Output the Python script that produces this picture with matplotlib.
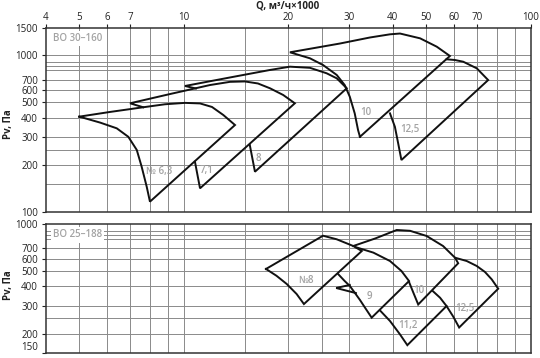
import matplotlib
matplotlib.use('Agg')
import matplotlib.pyplot as plt
from matplotlib.ticker import FixedLocator, NullLocator, FuncFormatter

plt.rcParams['font.family'] = ['Open Sans', 'DejaVu Sans']

# ---------------- axis data ----------------
x_tick_values = [4, 5, 6, 7, 10, 20, 30, 40, 50, 60, 70, 100]
x_grid_values = [5, 6, 7, 8, 9, 10, 15, 20, 25, 30, 40, 50, 60, 70, 80, 90]
top_y_ticks = [100, 200, 300, 400, 500, 600, 700, 1000, 1500]
top_y_grid = [150, 200, 250, 300, 400, 500, 600, 700, 800, 850, 900, 1000]
bot_y_ticks = [150, 200, 300, 400, 500, 600, 700, 1000]
bot_y_grid = [200, 250, 300, 400, 500, 600, 700, 800, 850, 900]

# ---------------- ВО 30-160 (visible outlines, Q [m3/h x1000], Pv [Pa]) ----------------
top_fan_63 = [
    ([5.00, 6.13, 7.64, 8.83, 10.08, 11.14, 12.06, 13.0, 14.05, 7.99, 7.82, 7.56, 7.32, 6.92, 6.41, 5.74, 5.00],
     [406, 435, 466, 487, 497, 493, 468, 416, 359, 116.4, 145, 195, 249, 302, 342, 372, 406]),
]
top_fan_71 = [
    ([10.77, 11.14, 20.9, 19.35, 17.72, 16.36, 15.0, 13.59, 11.9, 9.13, 7.0, 7.64],
     [209.5, 141.6, 494, 558, 616, 661, 681, 677, 646, 566, 494, 466]),
]
top_fan_8 = [
    ([15.5, 16.04, 29.5, 27.6, 25.8, 23.1, 20.23, 17.72, 13.59, 10.08, 10.84],
     [267.6, 180.7, 616, 713, 768, 832, 846, 806, 722, 637, 614]),
]
top_fan_10 = [
    ([32.2, 58.5, 53.6, 48.0, 42.0, 39.3, 34.4, 28.2, 20.23, 23.1, 25.2, 27.6, 29.1, 30.1, 31.1, 31.8, 32.2],
     [302, 990, 1135, 1283, 1377, 1361, 1299, 1189, 1045, 957, 867, 749, 646, 544, 426, 333, 302]),
]
top_fan_125 = [
    ([57.2, 60.5, 63.9, 69.9, 75.4, 42.4, 41.5, 40.6, 39.3],
     [943, 933, 910, 826, 695, 214.7, 274, 350, 426]),
]
top_labels = ['№ 6,3', '7,1', '8', '10', '12,5']
top_label_q = [8.49, 11.66, 16.4, 33.4, 44.9]
top_label_p = [180, 185, 220, 433, 337]

# ---------------- ВО 25-188 ----------------
bot_fan_8 = [
    ([17.26, 25.2, 27.6, 30.8, 32.6, 22.2, 21.15, 19.8, 18.5, 17.26],
     [517, 842, 799, 724, 673, 309, 358, 415, 468, 517]),
]
bot_fan_9 = [
    ([31.3, 35.2, 39.3, 42.4, 44.6, 34.8, 33.3, 32.2, 31.1, 30.1, 29.1, 27.9],
     [712, 657, 581, 502, 433, 253, 293, 328, 365, 403, 433, 478]),
]
bot_fan_10 = [
    ([30.1, 27.5, 31.35], [409, 391, 363]),
    ([30.8, 35.6, 41.1, 44.9, 50.1, 55.9, 60.5, 61.8, 47.4, 45.9, 44.6],
     [724, 808, 916, 905, 839, 724, 610, 562, 307, 365, 427]),
]
bot_fan_112 = [
    ([52.2, 54.8, 57.2, 44.1, 42.0, 39.3, 36.8],
     [374, 339, 300, 169, 198, 241, 281]),
]
bot_fan_125 = [
    ([60.5, 65.4, 69.9, 73.8, 77.2, 80.6, 62.2, 59.8, 57.2],
     [610, 581, 540, 495, 444, 387, 219, 257, 300]),
]
bot_labels = ['№8', '9', '10', '11,2', '12,5']
bot_label_q = [22.5, 34.25, 47.7, 44.4, 64.6]
bot_label_p = [435, 344, 376, 225, 290]

# ---------------- drawing ----------------
W, H = 540, 358
fig = plt.figure(figsize=(W / 100, H / 100), dpi=100)
left, right = 45.7, 530.7
ax1 = fig.add_axes([left / W, 1 - 212 / H, (right - left) / W, (212 - 27.7) / H])
ax2 = fig.add_axes([left / W, 1 - 353.3 / H, (right - left) / W, (353.3 - 224) / H])

grid_kw = dict(color='#8a8a8a', lw=0.7, zorder=1)
line_kw = dict(color='#111111', lw=1.4, zorder=3, solid_joinstyle='miter')
lab_kw = dict(color='#a3a3a3', fontsize=7, fontweight='semibold', ha='center', va='center', zorder=4)
fmt = FuncFormatter(lambda v, _: f'{v:g}')


def setup(ax, ylim, yticks, ygrid):
    ax.set_xscale('log')
    ax.set_yscale('log')
    ax.set_xlim(4, 100)
    ax.set_ylim(*ylim)
    for xv in x_grid_values:
        ax.axvline(xv, **grid_kw)
    for yv in ygrid:
        ax.axhline(yv, **grid_kw)
    ax.yaxis.set_major_locator(FixedLocator(yticks))
    ax.yaxis.set_minor_locator(NullLocator())
    ax.yaxis.set_major_formatter(fmt)
    ax.xaxis.set_major_locator(FixedLocator(x_tick_values))
    ax.xaxis.set_minor_locator(NullLocator())
    ax.xaxis.set_major_formatter(fmt)
    ax.tick_params(axis='y', which='both', length=3, width=0.8, pad=2.5,
                   labelsize=7, colors='#222222')
    for s in ax.spines.values():
        s.set_color('#333333')
        s.set_linewidth(1.1)
        s.set_zorder(5)


setup(ax1, (100, 1500), top_y_ticks, top_y_grid)
setup(ax2, (150, 1000), bot_y_ticks, bot_y_grid)

ax1.xaxis.tick_top()
ax1.tick_params(axis='x', which='both', top=True, bottom=False, labeltop=True,
                labelbottom=False, length=3, width=0.8, pad=0.3,
                labelsize=7, colors='#222222')
ax2.tick_params(axis='x', which='both', top=False, bottom=False,
                labeltop=False, labelbottom=False)

for fan in (top_fan_125, top_fan_10, top_fan_8, top_fan_71, top_fan_63):
    for q, p in fan:
        ax1.plot(q, p, **line_kw)
for fan in (bot_fan_125, bot_fan_112, bot_fan_10, bot_fan_9, bot_fan_8):
    for q, p in fan:
        ax2.plot(q, p, **line_kw)

for t, q, p in zip(top_labels, top_label_q, top_label_p):
    ax1.text(q, p, t, **lab_kw)
for t, q, p in zip(bot_labels, bot_label_q, bot_label_p):
    ax2.text(q, p, t, **lab_kw)

box = dict(facecolor='white', edgecolor='none', pad=1.5)
ax1.text(0.015, 0.939, 'ВО 30–160', transform=ax1.transAxes, ha='left', va='center',
         color='#a3a3a3', fontsize=7, fontweight='semibold', bbox=box, zorder=4)
ax2.text(0.015, 0.915, 'ВО 25–188', transform=ax2.transAxes, ha='left', va='center',
         color='#a3a3a3', fontsize=7, fontweight='semibold', bbox=box, zorder=4)

fig.text(288 / W, 1 - 6 / H, 'Q, м³/ч×1000', ha='center', va='center',
         fontsize=7, fontweight='bold', color='#222222')
fig.text(8.5 / W, 1 - 124 / H, 'Pv, Па', ha='center', va='center', rotation=90,
         fontsize=7, fontweight='bold', color='#222222')
fig.text(8.5 / W, 1 - 285 / H, 'Pv, Па', ha='center', va='center', rotation=90,
         fontsize=7, fontweight='bold', color='#222222')

# keep the lowest label of the lower panel inside the picture
fig.canvas.draw()
for lbl in ax2.get_yticklabels():
    if lbl.get_text() == '150':
        lbl.set_va('bottom')

fig.savefig('out.png', dpi=100, facecolor='white')
